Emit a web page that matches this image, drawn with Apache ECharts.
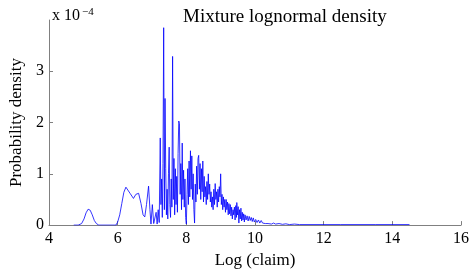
<!DOCTYPE html>
<html>
<head>
<meta charset="utf-8">
<script src="https://cdn.jsdelivr.net/npm/echarts@6/dist/echarts.min.js"></script>
<style>
  html, body { margin: 0; padding: 0; background: #fff; }
  #app { width: 473px; height: 274px; }
</style>
</head>
<body>
<div id="app"></div>
<script>
// density values in units of 1e-4
const logClaim = [
  4.72, 4.85, 4.95, 5.02, 5.08, 5.14, 5.20, 5.26, 5.32, 5.38, 5.45, 5.95,
  6.00, 6.06, 6.12, 6.18, 6.24, 6.29, 6.36, 6.46, 6.53, 6.61, 6.68, 6.74, 6.79,
  6.84, 6.90, 6.94, 6.97, 7.01, 7.05, 7.08, 7.12, 7.15, 7.18, 7.21,
  7.24, 7.26, 7.28, 7.30, 7.32, 7.34, 7.36, 7.38, 7.40, 7.42, 7.44, 7.46, 7.48,
  7.50, 7.52, 7.54, 7.56, 7.58, 7.60, 7.62, 7.64, 7.66, 7.68, 7.70, 7.72, 7.74,
  7.76, 7.78, 7.80, 7.82, 7.84, 7.86, 7.88, 7.90, 7.92, 7.94, 7.96, 7.98, 8.00,
  8.02, 8.04, 8.06, 8.08, 8.10, 8.12, 8.14, 8.16, 8.18, 8.20, 8.22, 8.24, 8.26,
  8.28, 8.30, 8.32, 8.34, 8.36, 8.38, 8.40, 8.42, 8.44, 8.46, 8.48, 8.50, 8.52,
  8.54, 8.56, 8.58, 8.60, 8.62, 8.64, 8.66, 8.68, 8.70, 8.72, 8.74, 8.76, 8.78,
  8.80, 8.82, 8.84, 8.86, 8.88, 8.90, 8.92, 8.94, 8.96, 8.98, 9.00, 9.02, 9.04,
  9.06, 9.08, 9.10, 9.12, 9.14, 9.16, 9.18, 9.20, 9.22, 9.24, 9.26, 9.28, 9.30,
  9.32, 9.34, 9.36, 9.38, 9.40, 9.42, 9.44, 9.46, 9.47, 9.49, 9.51, 9.53, 9.55,
  9.57, 9.59, 9.61, 9.63, 9.65, 9.67, 9.69, 9.71, 9.74, 9.77, 9.80, 9.83, 9.86,
  9.89, 9.92, 9.95, 9.98, 10.02, 10.06, 10.10, 10.14, 10.18, 10.22, 10.26, 10.30,
  10.34, 10.38, 10.42, 10.48, 10.54, 10.60, 10.70, 10.80, 10.90, 11.00, 11.15,
  11.30, 12.50, 13.50, 14.50
];
const density = [
  0, 0, 0.03, 0.12, 0.24, 0.31, 0.29, 0.20, 0.09, 0.03, 0, 0,
  0.06, 0.20, 0.42, 0.64, 0.74, 0.75, 0.62, 0.52, 0.60, 0.62, 0.42, 0.20, 0.16,
  0.40, 0.76, 0.30, 0.02, 0.40, 0.03, 0.01, 0.25, 0.02, 0.30, 0.05,
  1.70, 0.40, 0.90, 0.15, 1.20, 3.85, 0.30, 2.47, 1.10, 0.20, 0.70, 0.12, 1.00,
  1.52, 0.40, 0.15, 0.90, 0.35, 3.29, 0.50, 1.30, 0.20, 1.10, 0.40, 0.95, 0.25,
  1.40, 2.03, 1.98, 0.60, 1.20, 0.30, 1.60, 0.50, 1.07, 0.35, 0.90, 0.15, 0.02,
  0.60, 1.10, 0.40, 1.25, 0.55, 1.45, 0.70, 1.35, 0.50, 1.00, 0.30, 0.04, 0.80,
  0.45, 1.15, 0.60, 1.30, 1.36, 0.70, 1.20, 0.50, 1.10, 0.65, 1.25, 0.45, 0.95,
  0.55, 0.75, 0.40, 0.85, 0.50, 1.00, 0.60, 0.80, 0.45, 0.65, 0.35, 0.55, 0.30,
  0.70, 0.40, 0.81, 0.50, 0.65, 0.35, 0.70, 0.45, 0.75, 0.55, 1.00, 0.40, 0.60,
  0.30, 0.55, 0.35, 0.50, 0.25, 0.50, 0.30, 0.45, 0.20, 0.42, 0.22, 0.40, 0.18,
  0.35, 0.12, 0.30, 0.20, 0.35, 0.10, 0.38, 0.15, 0.44, 0.20, 0.36, 0.04, 0.30,
  0.12, 0.33, 0.08, 0.25, 0.10, 0.22, 0.06, 0.20, 0.10, 0.18, 0.08, 0.17, 0.09,
  0.15, 0.07, 0.14, 0.06, 0.11, 0.05, 0.10, 0.04, 0.09, 0.04, 0.07, 0.03,
  0.06, 0.03, 0.05, 0.02, 0.04, 0.02, 0.03, 0.015, 0.025, 0.01, 0.02,
  0.01, 0.01, 0.01, 0.01
];
const xTicks = [4, 6, 8, 10, 12, 14, 16];
const yTicks = [0, 1, 2, 3];

const serif = '"Liberation Serif", "Times New Roman", serif';
const axisGray = '#808080';

const chart = echarts.init(document.getElementById('app'));
chart.setOption({
  animation: false,
  textStyle: { fontFamily: serif },
  title: {
    text: 'Mixture lognormal density',
    left: 178,
    top: 3,
    textStyle: { fontFamily: serif, fontSize: 19, fontWeight: 'normal', color: '#000' }
  },
  grid: { left: 48, right: 12, top: 20, bottom: 45 },
  xAxis: {
    type: 'value',
    min: 4, max: 16, interval: 2,
    name: 'Log (claim)',
    nameLocation: 'middle',
    nameGap: 26,
    nameTextStyle: { fontFamily: serif, fontSize: 17, color: '#000' },
    axisLine: { lineStyle: { color: axisGray, width: 1 } },
    axisTick: { inside: true, length: 4, lineStyle: { color: axisGray }, customValues: xTicks },
    axisLabel: { fontFamily: serif, fontSize: 16, color: '#000', margin: 6, customValues: xTicks },
    splitLine: { show: false }
  },
  yAxis: {
    type: 'value',
    min: 0, max: 4,
    name: 'Probability density',
    nameLocation: 'middle',
    nameGap: 24,
    nameTextStyle: { fontFamily: serif, fontSize: 17, color: '#000' },
    axisLine: { show: true, lineStyle: { color: axisGray, width: 1 } },
    axisTick: { show: true, inside: true, length: 4, lineStyle: { color: axisGray }, customValues: yTicks },
    axisLabel: { fontFamily: serif, fontSize: 16, color: '#000', margin: 5, customValues: yTicks },
    splitLine: { show: false }
  },
  graphic: [
    { type: 'text', left: 52, top: 8, style: { text: 'x 10', font: '16px "Liberation Serif"', fill: '#000' } },
    { type: 'text', left: 82, top: 7, style: { text: '\u22124', font: '11px "Liberation Serif"', fill: '#000' } }
  ],
  series: [{
    type: 'line',
    data: logClaim.map((x, i) => [x, density[i]]),
    showSymbol: false,
    lineStyle: { color: '#0000ff', width: 0.8 },
    silent: true
  }]
});
</script>
</body>
</html>
